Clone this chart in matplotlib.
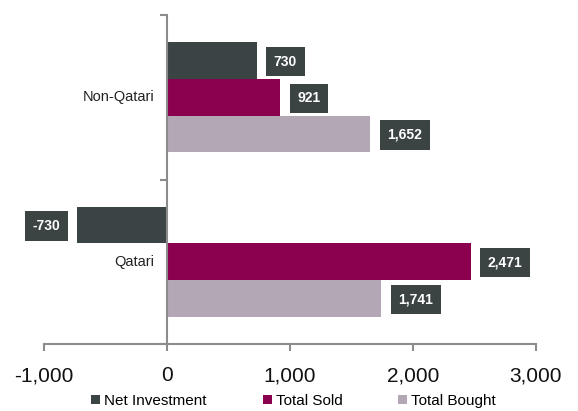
import matplotlib
matplotlib.use("Agg")
import matplotlib.pyplot as plt
from matplotlib.patches import Patch

plt.rcParams['font.family'] = ['Liberation Sans', 'DejaVu Sans']

categories = ["Qatari", "Non-Qatari"]
series_names = ["Net Investment", "Total Sold", "Total Bought"]
net_investment = [-730, 730]
total_sold = [2471, 921]
total_bought = [1741, 1652]
colors = ["#3b4444", "#8b004f", "#b3a6b5"]
xticks = [-1000, 0, 1000, 2000, 3000]
xtick_labels = ["-1,000", "0", "1,000", "2,000", "3,000"]

fig = plt.figure(figsize=(5.78, 4.11), dpi=100)
ax = fig.add_axes([44/578, 1-344/411, (536-44)/578, (344-15)/411])

bar_h = 0.223
offsets = [bar_h, 0.0, -bar_h]
series = [net_investment, total_sold, total_bought]
label_bg = "#3b4343"
for vals, off, col in zip(series, offsets, colors):
    ys = [i + off for i in range(len(categories))]
    ax.barh(ys, vals, height=bar_h, color=col, edgecolor='none', zorder=2)
    for y, v in zip(ys, vals):
        ha = 'left' if v >= 0 else 'right'
        dx = 17 if v >= 0 else -17
        ax.annotate(f"{v:,}", xy=(v, y), xytext=(dx, -1), textcoords='offset pixels',
                    ha=ha, va='center', color='white', fontsize=10, fontweight='bold',
                    bbox=dict(boxstyle='square,pad=0.55', fc=label_bg, ec='none'),
                    zorder=4)

ax.set_xlim(-1000, 3000)
ax.set_ylim(-0.5, 1.5)
ax.set_xticks(xticks)
ax.set_xticklabels(xtick_labels, fontsize=15, color='#111111')
ax.set_yticks([-0.5, 0.5, 1.5])
ax.set_yticklabels([])
for i, c in enumerate(categories):
    ax.annotate(c, xy=(0, i), xytext=(-13, 0), textcoords='offset pixels',
                ha='right', va='center', fontsize=10.5, color='#222222')

for s in ['top', 'right']:
    ax.spines[s].set_visible(False)
ax.spines['left'].set_position(('data', 0))
ax.spines['left'].set_color('#8c8c8c')
ax.spines['bottom'].set_color('#8c8c8c')
ax.spines['left'].set_linewidth(1.5)
ax.spines['bottom'].set_linewidth(1.5)
ax.tick_params(axis='both', direction='out', length=5, width=1.5, color='#8c8c8c')
ax.tick_params(axis='x', pad=11)
ax.spines['left'].set_zorder(3)

# legend, three entries placed individually
leg_x = [91/578, 263/578, 398/578]
for name, col, lx in zip(series_names, colors, leg_x):
    h = Patch(facecolor=col, edgecolor='none')
    fig.legend([h], [name], loc='center left', bbox_to_anchor=(lx, 1-401/411),
               frameon=False, fontsize=11, handlelength=0.6, handleheight=0.6,
               handletextpad=0.25, borderpad=0, borderaxespad=0)

fig.savefig("out.png", dpi=100)
